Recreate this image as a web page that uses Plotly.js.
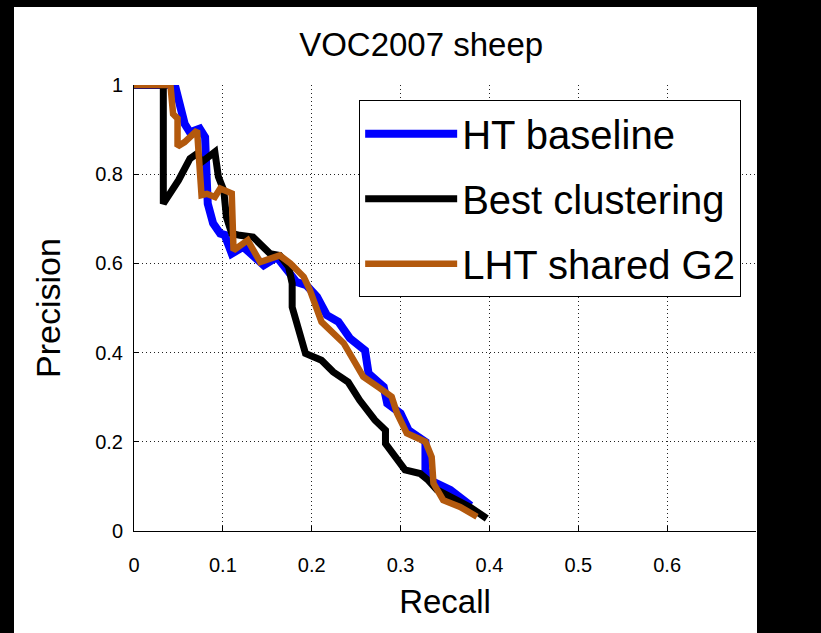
<!DOCTYPE html>
<html>
<head>
<meta charset="utf-8">
<script src="https://cdn.plot.ly/plotly-3.0.1.min.js"></script>
<style>
  html, body { margin: 0; padding: 0; width: 821px; height: 633px; background: #000; overflow: hidden; }
  #chart { position: absolute; left: 14px; top: 7px; width: 743px; height: 626px; background: #fff; }
</style>
</head>
<body>
<div id="chart"></div>
<script>
// ---- data ----
const seriesNames = ["HT baseline", "Best clustering", "LHT shared G2"];
const seriesColors = ["#0000FF", "#000000", "#B3590D"];

const htRecall = [0, 0.046, 0.057, 0.063, 0.074, 0.080, 0.081, 0.083, 0.089, 0.097, 0.102, 0.110, 0.123, 0.146, 0.161, 0.170, 0.183, 0.194, 0.206, 0.217, 0.230, 0.243, 0.260, 0.264, 0.281, 0.285, 0.300, 0.309, 0.328, 0.328, 0.337, 0.356, 0.376, 0.379];
const htPrecision = [1, 1, 0.913, 0.894, 0.902, 0.883, 0.830, 0.734, 0.690, 0.667, 0.664, 0.622, 0.637, 0.596, 0.614, 0.592, 0.558, 0.551, 0.525, 0.484, 0.469, 0.432, 0.405, 0.353, 0.323, 0.286, 0.264, 0.226, 0.200, 0.137, 0.110, 0.092, 0.062, 0.057];

const bestRecall = [0, 0.033, 0.033, 0.050, 0.063, 0.071, 0.076, 0.081, 0.091, 0.095, 0.101, 0.104, 0.110, 0.119, 0.134, 0.153, 0.164, 0.174, 0.178, 0.178, 0.185, 0.193, 0.211, 0.224, 0.241, 0.254, 0.271, 0.283, 0.283, 0.294, 0.305, 0.322, 0.331, 0.341, 0.360, 0.378, 0.397];
const bestPrecision = [1, 1, 0.734, 0.786, 0.835, 0.846, 0.827, 0.836, 0.850, 0.794, 0.764, 0.704, 0.667, 0.663, 0.659, 0.622, 0.618, 0.592, 0.555, 0.502, 0.450, 0.398, 0.383, 0.357, 0.334, 0.293, 0.249, 0.226, 0.196, 0.166, 0.137, 0.129, 0.114, 0.092, 0.073, 0.054, 0.028];

const lhtRecall = [0, 0.041, 0.044, 0.049, 0.049, 0.057, 0.071, 0.076, 0.082, 0.091, 0.097, 0.110, 0.112, 0.123, 0.128, 0.142, 0.157, 0.164, 0.176, 0.191, 0.198, 0.211, 0.236, 0.258, 0.277, 0.290, 0.296, 0.307, 0.328, 0.335, 0.337, 0.348, 0.367, 0.386];
const lhtPrecision = [1, 1, 0.935, 0.925, 0.862, 0.872, 0.898, 0.753, 0.756, 0.749, 0.768, 0.757, 0.629, 0.644, 0.652, 0.603, 0.614, 0.618, 0.600, 0.570, 0.540, 0.469, 0.421, 0.346, 0.320, 0.301, 0.264, 0.219, 0.200, 0.166, 0.107, 0.069, 0.054, 0.032];

const xTickVals = [0, 0.1, 0.2, 0.3, 0.4, 0.5, 0.6];
const xTickText = ["0", "0.1", "0.2", "0.3", "0.4", "0.5", "0.6"];
const yTickVals = [0, 0.2, 0.4, 0.6, 0.8, 1];
const yTickText = ["0", "0.2", "0.4", "0.6", "0.8", "1"];

const FONT = "Liberation Sans, Arial, Helvetica, sans-serif";
const xs = [htRecall, bestRecall, lhtRecall];
const ys = [htPrecision, bestPrecision, lhtPrecision];
const widths = [8, 7, 6.5];

const traces = seriesNames.map((name, i) => ({
  type: "scatter",
  mode: "lines",
  name: name,
  legendgroup: "g" + i,
  x: xs[i],
  y: ys[i],
  line: { color: seriesColors[i], width: widths[i] },
  hoverinfo: "skip"
}));

const layout = {
  width: 743,
  height: 626,
  margin: { l: 120, r: 1, t: 78, b: 102 },
  paper_bgcolor: "#ffffff",
  plot_bgcolor: "#ffffff",
  showlegend: true,
  title: {
    text: "VOC2007 sheep",
    font: { family: FONT, size: 33, color: "#000" },
    x: 0.548, xref: "container", xanchor: "center",
    y: 0.94, yref: "container", yanchor: "middle"
  },
  xaxis: {
    range: [0, 0.7],
    tickvals: xTickVals,
    ticktext: xTickText,
    ticks: "inside",
    ticklen: 5,
    tickcolor: "#000",
    ticklabelstandoff: 16,
    tickfont: { family: FONT, size: 20, color: "#000" },
    showline: true, linecolor: "#000", linewidth: 1,
    showgrid: true, gridcolor: "#222", gridwidth: 1, griddash: "1px,3px",
    zeroline: false,
    title: { text: "Recall", font: { family: FONT, size: 33, color: "#000" }, standoff: 14 },
    fixedrange: true
  },
  yaxis: {
    range: [0, 1],
    tickvals: yTickVals,
    ticktext: yTickText,
    ticks: "inside",
    ticklen: 5,
    tickcolor: "#000",
    ticklabelstandoff: 6,
    tickfont: { family: FONT, size: 20, color: "#000" },
    showline: true, linecolor: "#000", linewidth: 1,
    showgrid: true, gridcolor: "#222", gridwidth: 1, griddash: "1px,3px",
    zeroline: false,
    title: { text: "Precision", font: { family: FONT, size: 34, color: "#000" }, standoff: 24 },
    fixedrange: true
  },
  legend: {
    x: 0.362, xanchor: "left",
    y: 0.966, yanchor: "top",
    bgcolor: "#ffffff",
    bordercolor: "#000",
    borderwidth: 1,
    font: { family: FONT, size: 40, color: "#000" },
    traceorder: "grouped",
    tracegroupgap: 10,
    itemwidth: 92
  }
};

Plotly.newPlot("chart", traces, layout, { displayModeBar: false, staticPlot: true });
</script>
</body>
</html>
